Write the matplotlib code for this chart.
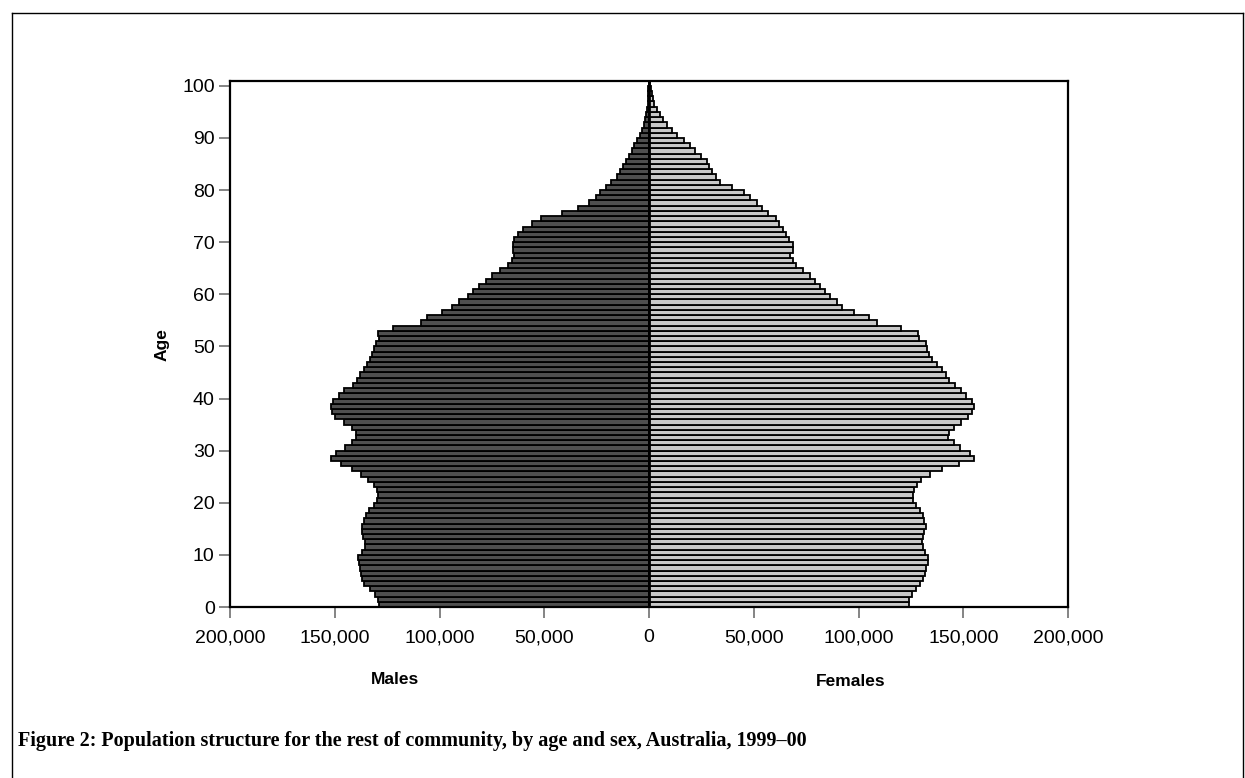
import matplotlib
matplotlib.use("Agg")
import matplotlib.pyplot as plt
from matplotlib.lines import Line2D

ages = list(range(0, 101))

males_k = [129, 129.5, 131, 133, 136, 137, 137.5, 138, 138.5, 139,
           137, 135.5, 135.5, 136.5, 137, 137, 136, 135, 133.5, 131.5,
           130, 129.5, 130, 131.5, 134, 137.5, 142, 147, 152, 149.5,
           145, 142, 140, 140, 142, 145.5, 150, 151.5, 152, 151,
           148, 145.5, 141.5, 139.5, 138, 136, 134.5, 133, 132, 131.5,
           130.5, 129, 129.5, 122, 109, 106, 99, 94, 90.5, 86.5,
           84, 81, 78, 75, 71, 67.5, 65.5, 64.5, 65, 65,
           64.5, 62.5, 60, 56, 51.5, 41.5, 34, 28.5, 25.5, 23.5,
           20.5, 18, 15.5, 14, 12.5, 11, 9.5, 8, 7, 5.5,
           4.2, 3.4, 2.6, 1.9, 1.4, 1.0, 0.7, 0.5, 0.35, 0.25, 0.2]

females_k = [124.3, 124, 125.5, 127.5, 129.4, 131, 131.8, 132.3, 133, 133,
             131.8, 130.7, 130.2, 130.7, 131.5, 132, 131.5, 131, 129.5, 127.5,
             126.2, 125.9, 126.5, 128, 130, 134, 140, 148, 155, 153,
             148.5, 145.5, 142.5, 143, 145.5, 149, 152.5, 154, 155, 154,
             151.5, 149, 146, 143, 142, 140, 137.5, 135, 133.5, 132.5,
             132, 129, 128.5, 120.5, 108.7, 104.8, 98, 92, 89.6, 86.4,
             84, 81.7, 79.3, 77, 73.4, 70, 68.6, 67.3, 68.6, 68.5,
             67, 65.5, 64, 62, 60.5, 57, 54, 51.5, 48, 45.5,
             39.5, 34, 32, 30, 28.8, 27.5, 25, 22, 19.5, 16.5,
             13.5, 11, 8.5, 6.8, 5.2, 3.8, 2.6, 1.8, 1.2, 0.8, 0.5]

males = [v * 1000 for v in males_k]
females = [v * 1000 for v in females_k]

xticks = [-200000, -150000, -100000, -50000, 0, 50000, 100000, 150000, 200000]
xticklabels = ["200,000", "150,000", "100,000", "50,000", "0",
               "50,000", "100,000", "150,000", "200,000"]
yticks = list(range(0, 101, 10))

fig = plt.figure(figsize=(12.45, 7.78), dpi=100)
ax = fig.add_axes([230 / 1245, (778 - 607) / 778, (1068 - 230) / 1245, (607 - 80.6) / 778])

ax.barh(ages, [-m for m in males], height=1, align="edge",
        color="#4f4f4f", edgecolor="black", linewidth=1.3)
ax.barh(ages, females, height=1, align="edge",
        color="#c8c8c8", edgecolor="black", linewidth=1.3)
ax.axvline(0, color="black", linewidth=2)

ax.set_xlim(-200000, 200000)
ax.set_ylim(0, 101)
ax.set_xticks(xticks)
ax.set_xticklabels(xticklabels)
ax.set_yticks(yticks)
for s in ax.spines.values():
    s.set_linewidth(1.6)
    s.set_color("black")
ax.tick_params(axis="both", direction="out", length=8, width=1.2, color="#707070",
               labelsize=14)
ax.tick_params(axis="x", pad=8)
ax.tick_params(axis="y", pad=3)
for lab in ax.get_xticklabels() + ax.get_yticklabels():
    lab.set_fontfamily(["Liberation Sans", "DejaVu Sans"])

fig.text(395 / 1245, 1 - 680 / 778, "Males", ha="center", va="center",
         fontsize=12.5, fontweight="bold", family=["Liberation Sans", "DejaVu Sans"])
fig.text(851 / 1245, 1 - 681 / 778, "Females", ha="center", va="center",
         fontsize=12.5, fontweight="bold", family=["Liberation Sans", "DejaVu Sans"])
fig.text(162 / 1245, 1 - 345 / 778, "Age", ha="center", va="center", rotation=90,
         fontsize=12.5, fontweight="bold", family=["Liberation Sans", "DejaVu Sans"])

fig.text(18 / 1245, 1 - 741 / 778,
         "Figure 2: Population structure for the rest of community, by age and sex, Australia, 1999\u201300",
         ha="left", va="center", fontsize=14.5, fontweight="bold",
         family=["Liberation Serif", "DejaVu Serif"])

# outer border
fig.add_artist(Line2D([12 / 1245, 12 / 1245], [0, 1 - 13 / 778], transform=fig.transFigure,
                      color="black", linewidth=1))
fig.add_artist(Line2D([12 / 1245, 1243 / 1245], [1 - 13 / 778, 1 - 13 / 778],
                      transform=fig.transFigure, color="black", linewidth=1))
fig.add_artist(Line2D([1243 / 1245, 1243 / 1245], [0, 1 - 13 / 778], transform=fig.transFigure,
                      color="black", linewidth=1))

fig.savefig("out.png", dpi=100)
